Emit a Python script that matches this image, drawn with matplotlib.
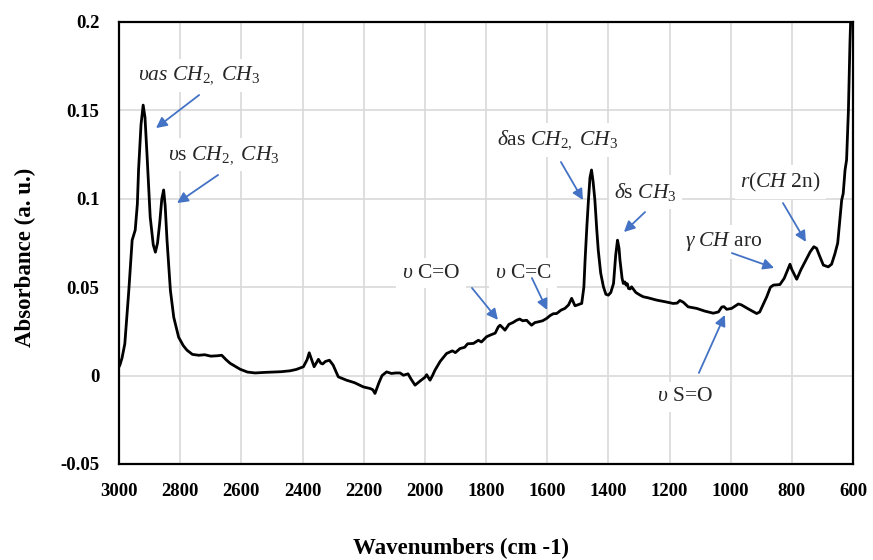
import matplotlib
matplotlib.use("Agg")
import matplotlib.pyplot as plt

plt.rcParams['font.family'] = ['Liberation Serif', 'DejaVu Serif']
plt.rcParams['mathtext.fontset'] = 'custom'
plt.rcParams['mathtext.rm'] = 'Liberation Serif'
plt.rcParams['mathtext.it'] = 'Liberation Serif:italic'
plt.rcParams['mathtext.bf'] = 'Liberation Serif:bold'

# ---- data ----
wavenumber = [3000, 2997, 2990, 2981, 2968, 2957, 2947, 2940, 2936, 2928, 2921, 2915, 2908,
              2898, 2888, 2881, 2874, 2867, 2860, 2854, 2849, 2843, 2832, 2821, 2805, 2790,
              2778, 2760, 2739, 2720, 2700, 2680, 2664, 2650, 2637, 2604, 2580, 2555, 2525,
              2496, 2470, 2441, 2420, 2397, 2385, 2378, 2370, 2362, 2348, 2340, 2334, 2325,
              2312, 2300, 2283, 2256, 2230, 2201, 2179, 2170, 2163, 2150, 2140, 2125, 2109,
              2095, 2081, 2070, 2055, 2045, 2032, 2015, 2000, 1994, 1983, 1975, 1967, 1950,
              1929, 1910, 1900, 1885, 1870, 1860, 1841, 1825, 1815, 1798, 1785, 1770, 1760,
              1754, 1745, 1738, 1725, 1712, 1700, 1690, 1680, 1667, 1660, 1651, 1640, 1629,
              1615, 1602, 1590, 1580, 1569, 1555, 1542, 1530, 1520, 1509, 1500, 1493, 1487,
              1480, 1476, 1470, 1465, 1460, 1455, 1450, 1444, 1438, 1433, 1425, 1416, 1408,
              1400, 1392, 1383, 1376, 1370, 1365, 1362, 1355, 1351, 1346, 1342, 1338, 1334,
              1329, 1324, 1310, 1296, 1286, 1270, 1242, 1215, 1188, 1175, 1166, 1155, 1139,
              1111, 1085, 1057, 1040, 1029, 1022, 1013, 997, 975, 965, 940, 915, 905, 882,
              870, 860, 839, 825, 806, 800, 784, 770, 752, 740, 728, 719, 710, 697, 681, 670,
              659, 650, 643, 637, 632, 626, 621, 615, 610, 605, 600]
absorbance = [0.005, 0.006, 0.010, 0.018, 0.048, 0.0766, 0.0823, 0.097, 0.1165, 0.142, 0.153,
              0.146, 0.1236, 0.0897, 0.074, 0.0698, 0.075, 0.0862, 0.100, 0.105, 0.096, 0.0766,
              0.0483, 0.033, 0.0217, 0.017, 0.0144, 0.012, 0.0115, 0.0118, 0.011, 0.0112,
              0.0115, 0.009, 0.007, 0.0036, 0.002, 0.0015, 0.0018, 0.002, 0.0022, 0.0027,
              0.0035, 0.005, 0.009, 0.0129, 0.009, 0.005, 0.0092, 0.007, 0.0066, 0.008, 0.0087,
              0.006, -0.0007, -0.0026, -0.004, -0.0064, -0.0073, -0.008, -0.0101, -0.004, 0.000,
              0.0021, 0.0012, 0.0015, 0.0015, 0.0002, 0.001, -0.002, -0.0054, -0.003, -0.001,
              0.0005, -0.0026, 0.0, 0.003, 0.008, 0.0125, 0.014, 0.013, 0.0153, 0.016, 0.018,
              0.0182, 0.020, 0.019, 0.022, 0.023, 0.024, 0.0275, 0.0285, 0.027, 0.0257, 0.029,
              0.030, 0.0313, 0.032, 0.031, 0.0313, 0.030, 0.0285, 0.030, 0.0304, 0.031, 0.0323,
              0.034, 0.035, 0.0351, 0.037, 0.038, 0.040, 0.0437, 0.0395, 0.040, 0.0405, 0.0408,
              0.050, 0.0654, 0.085, 0.0993, 0.112, 0.1163, 0.110, 0.0993, 0.083, 0.071, 0.058,
              0.0502, 0.046, 0.0455, 0.047, 0.0521, 0.068, 0.0766, 0.072, 0.0654, 0.055, 0.0521,
              0.053, 0.0512, 0.052, 0.0493, 0.049, 0.0502, 0.047, 0.0455, 0.0446, 0.044, 0.0427,
              0.0418, 0.0408, 0.041, 0.0425, 0.0415, 0.0389, 0.038, 0.0365, 0.0353, 0.036,
              0.0388, 0.039, 0.0375, 0.038, 0.0405, 0.040, 0.0375, 0.0351, 0.036, 0.0446, 0.050,
              0.0512, 0.0515, 0.055, 0.063, 0.060, 0.0545, 0.060, 0.066, 0.070, 0.0729, 0.072,
              0.068, 0.0625, 0.0615, 0.063, 0.069, 0.075, 0.088, 0.0993, 0.103, 0.1163, 0.122,
              0.150, 0.188, 0.215, 0.26]

x_ticks = [3000, 2800, 2600, 2400, 2200, 2000, 1800, 1600, 1400, 1200, 1000, 800, 600]
y_ticks = [-0.05, 0, 0.05, 0.1, 0.15, 0.2]
y_tick_labels = ['-0.05', '0', '0.05', '0.1', '0.15', '0.2']

# annotation labels: (text, text position, arrow start, arrow tip) in data coords
annotations = [
    (r"$\upsilon as\ CH_{2,}\ CH_3$", (2938, 0.170), (2738, 0.1587), (2879, 0.140)),
    (r"$\upsilon$s $CH_{2,}$ $CH_3$", (2840, 0.1248), (2676, 0.1135), (2810, 0.0976)),
    (r"$\delta$as $CH_{2,}$ $CH_3$", (1764, 0.1333), (1555, 0.1208), (1483, 0.0993)),
    (r"$\delta$s $CH_3$", (1381, 0.1038), (1280, 0.0925), (1349, 0.0812)),
    (r"$\upsilon$ C=O", (2075, 0.058), (1846, 0.0496), (1761, 0.0315)),
    (r"$\upsilon$ C=C", (1771, 0.058), (1650, 0.0552), (1600, 0.0371)),
    (r"$\gamma\ CH$ aro", (1149, 0.0756), (996, 0.0693), (858, 0.0609)),
    (r"$r(CH$ 2n)", (969, 0.1095), (829, 0.0976), (754, 0.0756)),
    (r"$\upsilon$ S=O", (1241, -0.0121), (1104, 0.0015), (1019, 0.0343)),
]

fig = plt.figure(figsize=(8.73, 5.6), dpi=100)
ax = fig.add_axes([119 / 873, 1 - 464 / 560, (853 - 119) / 873, (464 - 22) / 560])

ax.grid(True, color='#d9d9d9', linewidth=1.2, zorder=0)
ax.set_axisbelow(True)
ax.plot(wavenumber, absorbance, color='black', linewidth=2.0, zorder=3,
        solid_joinstyle='round')

ax.set_xlim(3000, 600)
ax.set_ylim(-0.05, 0.2)
ax.set_xticks(x_ticks)
ax.set_xticklabels([str(t) for t in x_ticks])
ax.set_yticks(y_ticks)
ax.set_yticklabels(y_tick_labels)
ax.tick_params(length=0, labelsize=13.5, pad=14)
for lab in ax.get_xticklabels() + ax.get_yticklabels():
    lab.set_fontweight('bold')
for sp in ax.spines.values():
    sp.set_linewidth(1.6)
    sp.set_color('black')
    sp.set_zorder(5)

for txt, tpos, astart, atip in annotations:
    ax.text(tpos[0], tpos[1], txt, fontsize=15.5, color='#262626', ha='left', va='center',
            zorder=4, bbox=dict(facecolor='white', edgecolor='none', pad=4))
    ax.annotate('', xy=atip, xytext=astart, zorder=6,
                arrowprops=dict(arrowstyle='-|>', color='#4472C4', lw=1.3,
                                mutation_scale=16, shrinkA=0, shrinkB=0))

fig.text(25 / 873, 1 - 257 / 560, 'Absorbance (a. u.)', rotation=90, ha='center',
         va='center', fontsize=16.5, fontweight='bold')
fig.text(461 / 873, 1 - 548 / 560, 'Wavenumbers (cm -1)', ha='center', va='center',
         fontsize=16.5, fontweight='bold')

fig.savefig('out.png', dpi=100)
